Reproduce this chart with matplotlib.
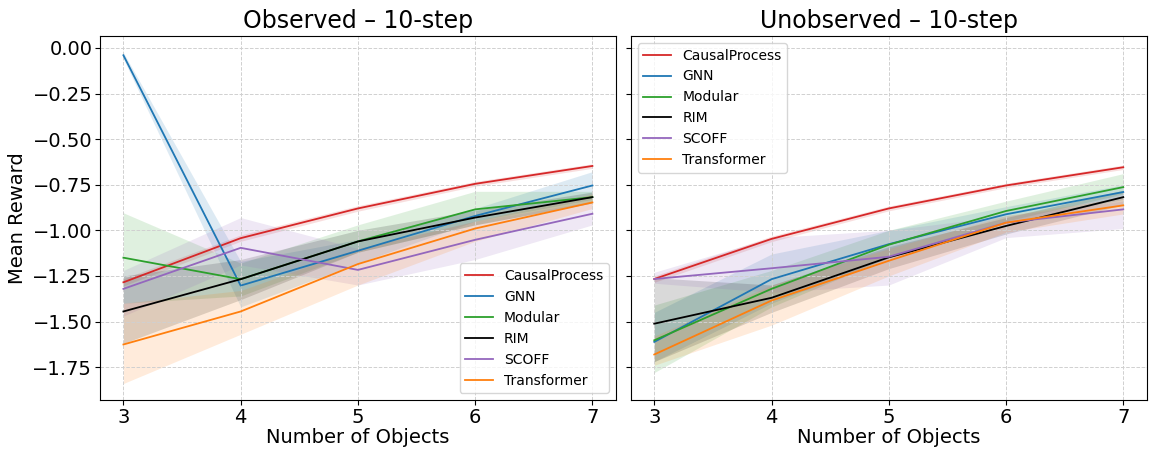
import numpy as np
import matplotlib
matplotlib.use("Agg")
import matplotlib.pyplot as plt

n_objects = [3, 4, 5, 6, 7]
methods = ["CausalProcess", "GNN", "Modular", "RIM", "SCOFF", "Transformer"]
colors = ["tab:red", "tab:blue", "tab:green", "black", "tab:purple", "tab:orange"]

# Observed - 10-step: mean, lower, upper
obs_mean = {
    "CausalProcess": [-1.285, -1.043, -0.880, -0.745, -0.647],
    "GNN":           [-0.040, -1.303, -1.112, -0.921, -0.754],
    "Modular":       [-1.150, -1.268, -1.061, -0.885, -0.818],
    "RIM":           [-1.445, -1.268, -1.061, -0.930, -0.818],
    "SCOFF":         [-1.321, -1.096, -1.217, -1.052, -0.909],
    "Transformer":   [-1.626, -1.445, -1.185, -0.990, -0.847],
}
obs_low = {
    "CausalProcess": [-1.305, -1.060, -0.895, -0.758, -0.660],
    "GNN":           [-0.060, -1.420, -1.180, -0.950, -0.830],
    "Modular":       [-1.400, -1.360, -1.120, -0.970, -0.850],
    "RIM":           [-1.620, -1.380, -1.120, -0.970, -0.850],
    "SCOFF":         [-1.470, -1.190, -1.300, -1.160, -0.970],
    "Transformer":   [-1.840, -1.570, -1.300, -1.060, -0.880],
}
obs_high = {
    "CausalProcess": [-1.265, -1.025, -0.865, -0.732, -0.635],
    "GNN":           [-0.025, -1.170, -1.050, -0.880, -0.678],
    "Modular":       [-0.904, -1.180, -0.970, -0.786, -0.786],
    "RIM":           [-1.250, -1.160, -1.000, -0.890, -0.790],
    "SCOFF":         [-1.220, -0.930, -1.100, -0.950, -0.840],
    "Transformer":   [-1.400, -1.330, -1.100, -0.950, -0.800],
}

# Unobserved - 10-step
unobs_mean = {
    "CausalProcess": [-1.267, -1.047, -0.880, -0.754, -0.654],
    "GNN":           [-1.612, -1.268, -1.076, -0.912, -0.790],
    "Modular":       [-1.603, -1.321, -1.079, -0.894, -0.763],
    "RIM":           [-1.512, -1.370, -1.148, -0.976, -0.818],
    "SCOFF":         [-1.267, -1.208, -1.145, -0.958, -0.885],
    "Transformer":   [-1.681, -1.385, -1.167, -0.958, -0.863],
}
unobs_low = {
    "CausalProcess": [-1.285, -1.062, -0.893, -0.766, -0.666],
    "GNN":           [-1.720, -1.400, -1.150, -0.960, -0.830],
    "Modular":       [-1.780, -1.420, -1.150, -0.950, -0.800],
    "RIM":           [-1.720, -1.450, -1.210, -1.020, -0.860],
    "SCOFF":         [-1.290, -1.340, -1.300, -1.040, -0.990],
    "Transformer":   [-1.740, -1.520, -1.250, -1.010, -0.910],
}
unobs_high = {
    "CausalProcess": [-1.250, -1.032, -0.867, -0.742, -0.642],
    "GNN":           [-1.450, -1.130, -1.000, -0.870, -0.750],
    "Modular":       [-1.410, -1.220, -1.000, -0.840, -0.689],
    "RIM":           [-1.260, -1.300, -1.090, -0.930, -0.780],
    "SCOFF":         [-1.230, -1.040, -1.000, -0.920, -0.840],
    "Transformer":   [-1.580, -1.300, -1.100, -0.920, -0.820],
}

fig, axes = plt.subplots(1, 2, figsize=(11.49, 4.5), dpi=100, sharey=True)
fig.subplots_adjust(left=0.087, right=0.998, top=0.92, bottom=0.111, wspace=0.029)

panels = [
    (axes[0], "Observed – 10-step", obs_mean, obs_low, obs_high, "lower right"),
    (axes[1], "Unobserved – 10-step", unobs_mean, unobs_low, unobs_high, "upper left"),
]

for ax, title, mean, low, high, loc in panels:
    for m, c in zip(methods, colors):
        ax.plot(n_objects, mean[m], color=c, label=m, lw=1.3)
        ax.fill_between(n_objects, low[m], high[m], color=c, alpha=0.15, lw=0)
    ax.set_title(title, fontsize=17)
    ax.set_xlabel("Number of Objects", fontsize=14, labelpad=1)
    ax.set_xticks(n_objects)
    ax.tick_params(labelsize=14, pad=2)
    ax.grid(True, linestyle="--", color="#d0d0d0", lw=0.7)
    ax.legend(loc=loc, fontsize=10)

axes[0].set_ylabel("Mean Reward", fontsize=14)

plt.savefig("out.png", dpi=100)
